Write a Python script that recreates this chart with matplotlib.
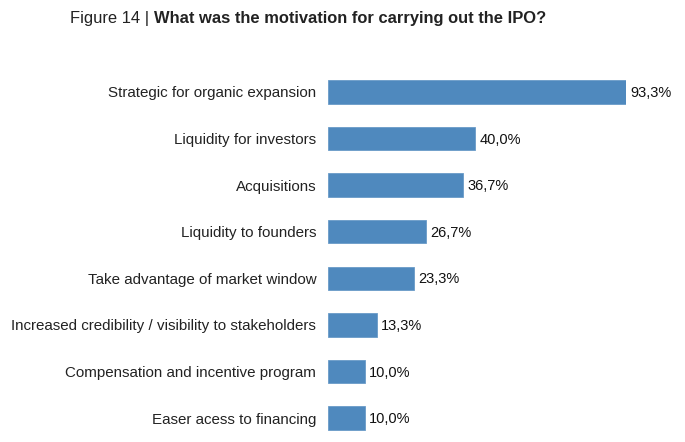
import matplotlib
matplotlib.use("Agg")
import matplotlib.pyplot as plt

categories = [
    "Strategic for organic expansion",
    "Liquidity for investors",
    "Acquisitions",
    "Liquidity to founders",
    "Take advantage of market window",
    "Increased credibility / visibility to stakeholders",
    "Compensation and incentive program",
    "Easer acess to financing",
]
values = [93.3, 40.0, 36.7, 26.7, 23.3, 13.3, 10.0, 10.0]
value_labels = ["93,3%", "40,0%", "36,7%", "26,7%", "23,3%", "13,3%", "10,0%", "10,0%"]

plt.rcParams['font.family'] = ['Liberation Sans', 'DejaVu Sans']

W, H = 685, 442
fig = plt.figure(figsize=(W / 100, H / 100), dpi=100)
ax = fig.add_axes([328 / W, 1 - 441.3 / H, 298 / W, (441.3 - 68.7) / H])

xmax = 81
ypos = list(range(len(categories)))
ax.barh(ypos, values, height=0.5, color="#4f89be", edgecolor="#6a9bc8", linewidth=0.6)
ax.set_xlim(0, xmax)
ax.set_ylim(len(categories) - 0.5, -0.5)
ax.set_yticks(ypos)
ax.set_yticklabels(categories, fontsize=10.9, color="#222222")
ax.tick_params(axis="y", length=0, pad=8.5)
ax.set_xticks([])
for s in ax.spines.values():
    s.set_visible(False)

for y, v, lab in zip(ypos, values, value_labels):
    ax.annotate(lab, xy=(min(v, xmax), y), xytext=(3, -0.8), textcoords="offset points",
                va="center", ha="left", fontsize=10.5, color="#111111", clip_on=False,
                annotation_clip=False)

t1 = fig.text(70 / W, 1 - 19 / H, "Figure 14 | ", fontsize=11.9, color="#222222", va="center", ha="left")
fig.canvas.draw()
bb = t1.get_window_extent()
fig.text(bb.x1 / W, 1 - 19 / H, "What was the motivation for carrying out the IPO?",
         fontsize=11.9, fontweight="bold", color="#222222", va="center", ha="left")

fig.savefig("out.png", dpi=100)
